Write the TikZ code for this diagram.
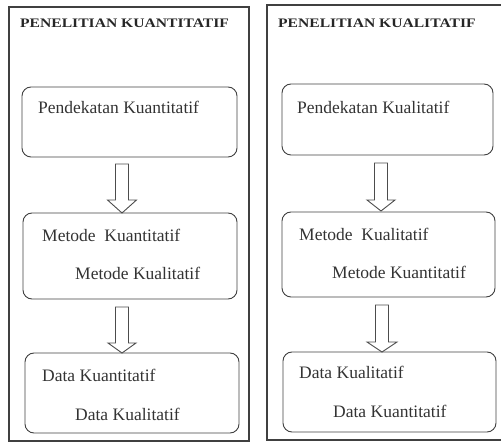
\documentclass[tikz,border=0pt]{standalone}
\usepackage{fontspec}
\setmainfont{Liberation Serif}
\newcommand\blockarr[6]{% x, ytop, yhead, ytip, half shaft, half head
  \draw[arrowline] (#1-#5,-#2) -- (#1+#5,-#2) -- (#1+#5,-#3) -- (#1+#6,-#3) -- (#1,-#4) -- (#1-#6,-#3) -- (#1-#5,-#3) -- cycle;}
\begin{document}
\begin{tikzpicture}[x=1pt,y=1pt,
  outer/.style={draw=black!75, line width=1.1pt},
  inbox/.style={draw=black!75, line width=0.9pt, rounded corners=9pt},
  arrowline/.style={draw=black!70, line width=0.9pt, line join=miter},
  title/.style={font=\bfseries\fontsize{13}{15}\selectfont, anchor=base west, inner sep=0pt, text=black!85},
  lbl/.style={font=\fontsize{17.5}{19}\selectfont, anchor=base west, inner sep=0pt, text=black!80}]
\useasboundingbox (0,0) rectangle (501,-443);
% outer frames
\draw[outer] (9,-7) rectangle (249,-441);
\draw[outer] (510,-5) -- (267,-5) -- (267,-440) -- (510,-440);
% titles
\node[title] (t1) at (20,-28) {\scalebox{1.2}[1]{PENELITIAN KUANTITATIF}};
\node[title] (t2) at (278,-28) {\scalebox{1.2}[1]{PENELITIAN KUALITATIF}};
% left boxes
\draw[inbox] (22,-87) rectangle (237,-157);
\draw[inbox] (23,-213) rectangle (237,-299);
\draw[inbox] (25,-353) rectangle (239,-433);
% right boxes
\draw[inbox] (282,-84) rectangle (493,-155);
\draw[inbox] (282,-212) rectangle (495,-297);
\draw[inbox] (283,-352) rectangle (496,-432);
% arrows
\blockarr{122}{164}{200}{213}{6.5}{14.5}
\blockarr{122}{307}{343}{353}{6.5}{14}
\blockarr{381}{163}{200}{211}{6.5}{14}
\blockarr{382}{305}{342}{352}{6.5}{15}
% left labels
\node[lbl] (l1) at (38,-114) {Pendekatan Kuantitatif};
\node[lbl] (l2) at (42,-242) {Metode\ \ Kuantitatif};
\node[lbl] (l3) at (75,-280) {Metode Kualitatif};
\node[lbl] (l4) at (42,-382) {Data Kuantitatif};
\node[lbl] (l5) at (75,-421) {Data Kualitatif};
% right labels
\node[lbl] (r1) at (297,-114) {Pendekatan Kualitatif};
\node[lbl] (r2) at (299,-241) {Metode\ \ Kualitatif};
\node[lbl] (r3) at (332,-279) {Metode Kuantitatif};
\node[lbl] (r4) at (299,-379) {Data Kualitatif};
\node[lbl] (r5) at (333,-418) {Data Kuantitatif};
\end{tikzpicture}
\end{document}
